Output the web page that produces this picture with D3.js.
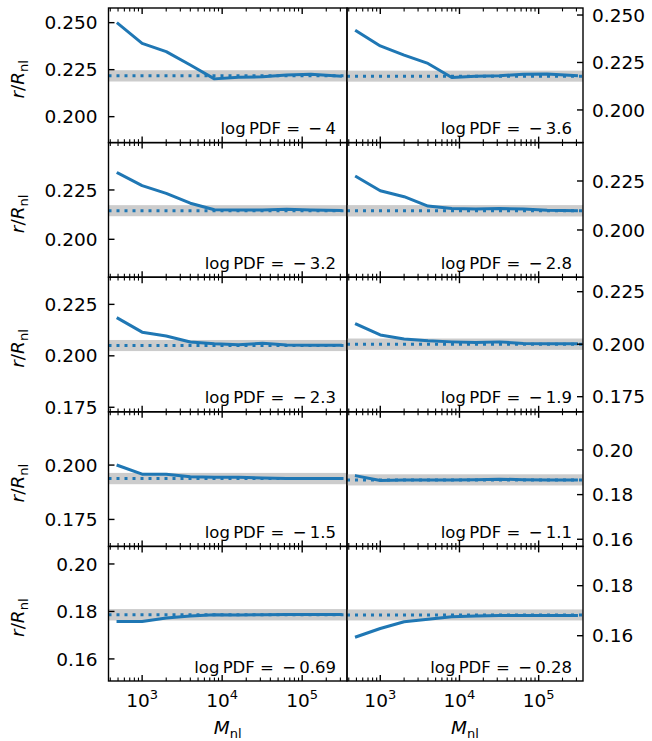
<!DOCTYPE html>
<html><head><meta charset="utf-8">
<script src="https://cdn.jsdelivr.net/npm/d3@7"></script>
<style>
html,body{margin:0;padding:0;background:#fff;}
svg{display:block;font-family:"DejaVu Sans",sans-serif;}
</style></head>
<body><div id="chart"></div>
<script>
// ---- data ----
const xValues = [500, 1000, 2000, 4000, 8000, 16000, 32000, 64000, 128000, 300000];
const logPDF = [-4, -3.6, -3.2, -2.8, -2.3, -1.9, -1.5, -1.1, -0.69, -0.28];
const s0 = [0.2495, 0.2390, 0.2346, 0.2275, 0.2201, 0.2210, 0.2212, 0.2222, 0.2226, 0.2216];
const s1 = [0.2416, 0.2337, 0.2289, 0.2245, 0.2171, 0.2178, 0.2180, 0.2188, 0.2189, 0.2181];
const s2 = [0.2335, 0.2272, 0.2233, 0.2183, 0.2150, 0.2149, 0.2149, 0.2152, 0.2149, 0.2146];
const s3 = [0.2272, 0.2200, 0.2170, 0.2122, 0.2110, 0.2107, 0.2110, 0.2107, 0.2101, 0.2098];
const s4 = [0.2182, 0.2115, 0.2096, 0.2067, 0.2059, 0.2054, 0.2061, 0.2053, 0.2051, 0.2051];
const s5 = [0.2095, 0.2044, 0.2025, 0.2016, 0.2011, 0.2008, 0.2011, 0.2003, 0.2002, 0.2002];
const s6 = [0.1998, 0.1958, 0.1958, 0.1946, 0.1944, 0.1944, 0.1941, 0.1938, 0.1938, 0.1938];
const s7 = [0.1884, 0.1863, 0.1865, 0.1866, 0.1866, 0.1867, 0.1869, 0.1867, 0.1866, 0.1866];
const s8 = [0.1758, 0.1758, 0.1772, 0.1781, 0.1786, 0.1785, 0.1786, 0.1787, 0.1787, 0.1787];
const s9 = [0.1596, 0.1629, 0.1656, 0.1666, 0.1676, 0.1679, 0.1681, 0.1681, 0.1681, 0.1681];
const seriesValues = [s0, s1, s2, s3, s4, s5, s6, s7, s8, s9];
const refValues = [0.2217, 0.2178, 0.2145, 0.2098, 0.2050, 0.2000, 0.1938, 0.1866, 0.1786, 0.1683];
const refHalfWidth = [0.0030, 0.0029, 0.0028, 0.0029, 0.0027, 0.0027, 0.0026, 0.0025, 0.0024, 0.0022];
const yDomains = [
  [0.1862, 0.2578], [0.1828, 0.2537],
  [0.1808, 0.2490], [0.1759, 0.2446],
  [0.1728, 0.2382], [0.1678, 0.2319],
  [0.1626, 0.2245], [0.1568, 0.2171],
  [0.1507, 0.2074], [0.1419, 0.1957]
];
const yTicks = [
  [0.200, 0.225, 0.250], [0.200, 0.225, 0.250],
  [0.200, 0.225], [0.200, 0.225],
  [0.175, 0.200, 0.225], [0.175, 0.200, 0.225],
  [0.175, 0.200], [0.16, 0.18, 0.20],
  [0.16, 0.18, 0.20], [0.16, 0.18]
];
const yTickDecimals = [3, 3, 3, 3, 3, 3, 3, 2, 2, 2];
const xDomain = [380, 363000];
const xMajorTicks = [1e3, 1e4, 1e5];
const xTickExponents = ["3", "4", "5"];

// ---- layout ----
const W = 652, H = 741;
const colX = [[108.5, 347], [347, 583]];
const rowTop = 8, rowH = 134.6;
const blue = "#1f77b4";

const svg = d3.select("#chart").append("svg").attr("width", W).attr("height", H);

// minor ticks
const minorTicks = [];
for (let e = 2; e <= 5; e++) for (let m = 2; m <= 9; m++) {
  const v = m * Math.pow(10, e);
  if (v >= xDomain[0] && v <= xDomain[1]) minorTicks.push(v);
}

for (let i = 0; i < 10; i++) {
  const r = Math.floor(i / 2), c = i % 2;
  const [x0, x1] = colX[c];
  const y0 = rowTop + r * rowH, y1 = y0 + rowH;
  const x = d3.scaleLog().domain(xDomain).range([x0, x1]);
  const y = d3.scaleLinear().domain(yDomains[i]).range([y1, y0]);
  const g = svg.append("g");
  const clipId = "clip" + i;
  svg.append("clipPath").attr("id", clipId).append("rect")
    .attr("x", x0).attr("y", y0).attr("width", x1 - x0).attr("height", y1 - y0);
  const inner = g.append("g").attr("clip-path", `url(#${clipId})`);

  // band
  inner.append("rect")
    .attr("x", x0).attr("width", x1 - x0)
    .attr("y", y(refValues[i] + refHalfWidth[i]))
    .attr("height", y(refValues[i] - refHalfWidth[i]) - y(refValues[i] + refHalfWidth[i]))
    .attr("fill", "#cccccc");
  // dotted reference line
  inner.append("line")
    .attr("x1", x0).attr("x2", x1)
    .attr("y1", y(refValues[i])).attr("y2", y(refValues[i]))
    .attr("stroke", blue).attr("stroke-width", 3)
    .attr("stroke-dasharray", "3 5");
  // data line
  const line = d3.line().x((d, k) => x(xValues[k])).y(d => y(d));
  inner.append("path").datum(seriesValues[i])
    .attr("d", line).attr("fill", "none")
    .attr("stroke", blue).attr("stroke-width", 3)
    .attr("stroke-linejoin", "round").attr("stroke-linecap", "square");

  // x axes (top & bottom), ticks inward
  const addX = (yPos, dir) => {
    const ax = d3.axisBottom(x).tickValues(xMajorTicks).tickSize(0).tickFormat("");
    const ag = g.append("g").attr("transform", `translate(0,${yPos})`).call(ax);
    ag.select(".domain").remove();
    xMajorTicks.forEach(v => {
      g.append("line").attr("x1", x(v)).attr("x2", x(v))
        .attr("y1", yPos).attr("y2", yPos + dir * 6)
        .attr("stroke", "#000").attr("stroke-width", 1.4);
    });
    minorTicks.forEach(v => {
      g.append("line").attr("x1", x(v)).attr("x2", x(v))
        .attr("y1", yPos).attr("y2", yPos + dir * 3.4)
        .attr("stroke", "#000").attr("stroke-width", 1.1);
    });
  };
  addX(y1, -1);
  addX(y0, 1);

  // y ticks
  const yAxisX = c === 0 ? x0 : x1;
  const dirX = c === 0 ? 1 : -1;
  const fmt = d3.format("." + yTickDecimals[i] + "f");
  yTicks[i].forEach(v => {
    g.append("line").attr("x1", yAxisX).attr("x2", yAxisX + dirX * 6)
      .attr("y1", y(v)).attr("y2", y(v))
      .attr("stroke", "#000").attr("stroke-width", 1.4);
    g.append("text")
      .attr("x", c === 0 ? x0 - 11 : x1 + 9)
      .attr("y", y(v)).attr("dy", "0.36em")
      .attr("text-anchor", c === 0 ? "end" : "start")
      .attr("font-size", 18.5).attr("fill", "#000")
      .text(fmt(v));
  });

  // frame
  g.append("rect").attr("x", x0).attr("y", y0)
    .attr("width", x1 - x0).attr("height", y1 - y0)
    .attr("fill", "none").attr("stroke", "#000").attr("stroke-width", 1.4);

  // annotation
  const val = Math.abs(logPDF[i]).toString();
  g.append("text")
    .attr("x", x1 - 11).attr("y", y1 - 8.5)
    .attr("text-anchor", "end").attr("font-size", 16.5).attr("fill", "#000")
    .text("log\u2009PDF =\u2002\u2212\u2009" + val);

  // y label
  if (c === 0) {
    const yc = (y0 + y1) / 2 + 4;
    const t = g.append("text")
      .attr("transform", `translate(24,${yc}) rotate(-90)`)
      .attr("text-anchor", "middle").attr("font-size", 18.5).attr("fill", "#000");
    t.append("tspan").attr("font-style", "italic").text("r");
    t.append("tspan").text("/");
    t.append("tspan").attr("font-style", "italic").text("R");
    t.append("tspan").attr("font-size", 13).attr("dy", 4).text("nl");
  }

  // x tick labels + x label for bottom row
  if (r === 4) {
    xMajorTicks.forEach((v, k) => {
      const t = g.append("text").attr("x", x(v)).attr("y", 707)
        .attr("text-anchor", "middle").attr("font-size", 18.5).attr("fill", "#000");
      t.append("tspan").text("10");
      t.append("tspan").attr("font-size", 13).attr("dy", -8).text(xTickExponents[k]);
    });
    const t = g.append("text").attr("x", (x0 + x1) / 2).attr("y", 734)
      .attr("text-anchor", "middle").attr("font-size", 18.5).attr("fill", "#000");
    t.append("tspan").attr("font-style", "italic").text("M");
    t.append("tspan").attr("font-size", 13).attr("dy", 3.5).text("nl");
  }
}
</script>
</body></html>
